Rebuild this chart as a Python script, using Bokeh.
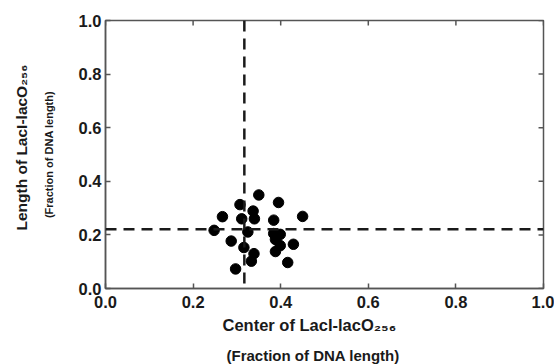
from bokeh.plotting import figure
from bokeh.models import Range1d, FixedTicker, Span, PrintfTickFormatter, Title
from bokeh.embed import file_html
from bokeh.resources import INLINE

# Data
center = [0.350, 0.307, 0.395, 0.267, 0.337, 0.311, 0.340, 0.384, 0.450, 0.248,
          0.325, 0.384, 0.399, 0.388, 0.287, 0.429, 0.399, 0.316, 0.388, 0.339,
          0.333, 0.416, 0.297]
length = [0.349, 0.313, 0.321, 0.268, 0.289, 0.260, 0.260, 0.255, 0.269, 0.217,
          0.211, 0.205, 0.202, 0.183, 0.177, 0.165, 0.160, 0.153, 0.138, 0.130,
          0.102, 0.097, 0.073]
mean_center = 0.317
mean_length = 0.221
ticks = [0.0, 0.2, 0.4, 0.6, 0.8, 1.0]
x_title = "Center of LacI-lacO\u2082\u2085\u2086"
y_title = "Length of LacI-lacO\u2082\u2085\u2086"
sub_title = "(Fraction of DNA length)"

FONT = "Liberation Sans"
W, H = 554, 364
FL, FT, FR, FB = 102, 20, 543, 288   # frame edges in page pixels

p = figure(width=W, height=H, output_backend="svg", toolbar_location=None,
           x_range=Range1d(0, 1), y_range=Range1d(0, 1),
           min_border_left=FL, min_border_right=W - FR, min_border_top=FT,
           min_border_bottom=H - FB)
p.grid.visible = False
p.outline_line_color = "#555555"
p.outline_line_width = 1.5
p.background_fill_color = "white"
p.border_fill_color = "white"

for ax in (p.xaxis[0], p.yaxis[0]):
    ax.ticker = FixedTicker(ticks=ticks)
    ax.formatter = PrintfTickFormatter(format="%.1f")
    ax.minor_tick_line_color = None
    ax.major_tick_in = 5
    ax.major_tick_out = 0
    ax.major_tick_line_color = "#555555"
    ax.major_tick_line_width = 1.5
    ax.axis_line_color = "#555555"
    ax.axis_line_width = 1.5
    ax.major_label_text_font = FONT
    ax.major_label_text_font_style = "bold"
    ax.major_label_text_color = "#1a1a1a"
    ax.major_label_text_font_size = "16.5px"
p.xaxis[0].major_label_standoff = 7
p.yaxis[0].major_label_standoff = 4

# y subtitle as the axis label (nearest the tick labels)
yax = p.yaxis[0]
yax.axis_label = sub_title
yax.axis_label_standoff = 21
yax.axis_label_text_font = FONT
yax.axis_label_text_font_style = "bold"
yax.axis_label_text_font_size = "11px"
yax.axis_label_text_color = "#1a1a1a"

# mirrored inward ticks on top and right frame edges
tick_dy = 5.0 / (FB - FT)
tick_dx = 5.0 / (FR - FL)
p.segment(x0=ticks, y0=[1.0] * len(ticks), x1=ticks, y1=[1.0 - tick_dy] * len(ticks),
          line_color="#555555", line_width=1.5)
p.segment(x0=[1.0] * len(ticks), y0=ticks, x1=[1.0 - tick_dx] * len(ticks), y1=ticks,
          line_color="#555555", line_width=1.5)

# mean lines
p.add_layout(Span(location=mean_length, dimension="width", line_color="#1a1a1a",
                  line_width=2.5, line_dash="11 7"))
p.add_layout(Span(location=mean_center, dimension="height", line_color="#1a1a1a",
                  line_width=2.5, line_dash="11 7"))

p.scatter(center, length, size=10.5, color="black")

def title(text, side, size, offset, standoff):
    p.add_layout(Title(text=text, align="left", offset=offset, standoff=standoff,
                       text_font=FONT, text_font_style="bold", text_font_size=size,
                       text_color="#1a1a1a"), side)

# x titles (stacked outward from the axis)
title(x_title, "below", "16.5px", 117, 6)
# leading blank line lets the subtitle sit lower without enlarging the border
title("\n" + sub_title, "below", "15px", 121, -17)
# y main title, outside the axis label
title(y_title, "left", "15.5px", 58, 20)

open("out.html", "w").write(file_html(p, INLINE))
